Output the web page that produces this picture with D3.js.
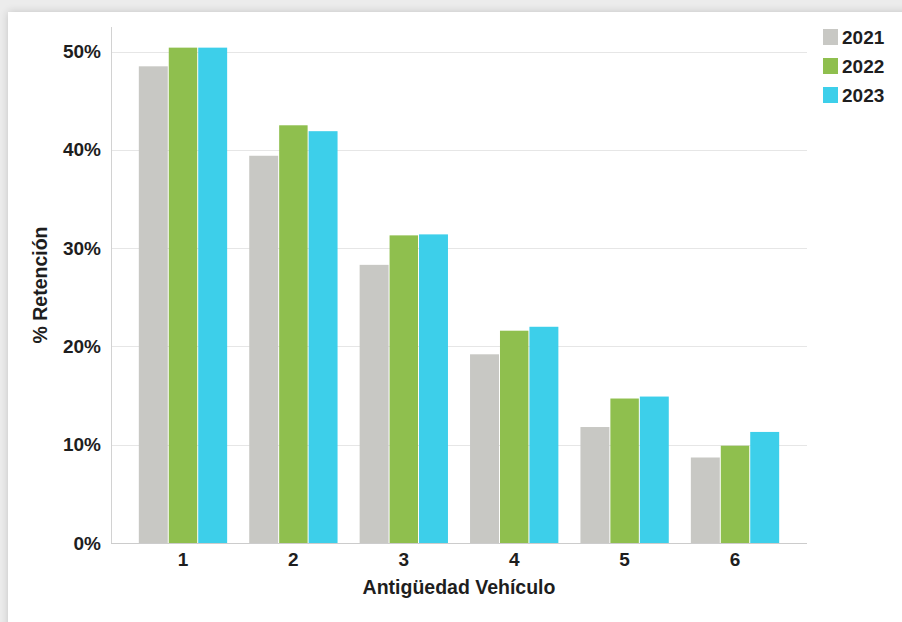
<!DOCTYPE html>
<html>
<head>
<meta charset="utf-8">
<script src="https://cdn.jsdelivr.net/npm/d3@7"></script>
<style>
  html, body { margin: 0; padding: 0; background: #ececec; }
  svg { display: block; }
  text { font-family: "Liberation Sans", Arial, sans-serif; font-weight: bold; fill: #1e1e1e; }
</style>
</head>
<body>
<svg id="chart" width="902" height="622"></svg>
<script>
// Vehicle age (years) and retention share per year, in percent
const categories = ["1", "2", "3", "4", "5", "6"];
const years = ["2021", "2022", "2023"];
const values2021 = [48.5, 39.4, 28.3, 19.2, 11.8, 8.7];
const values2022 = [50.4, 42.5, 31.3, 21.6, 14.7, 9.9];
const values2023 = [50.4, 41.9, 31.4, 22.0, 14.9, 11.3];
const yTicks = [0, 10, 20, 30, 40, 50];
const colors = ["#c8c8c4", "#8fbf4e", "#3dcfea"];

const series = [values2021, values2022, values2023];

const svg = d3.select("#chart");

// card with soft shadow
const defs = svg.append("defs");
const f = defs.append("filter").attr("id", "shadow").attr("x", "-10%").attr("y", "-10%").attr("width", "120%").attr("height", "120%");
f.append("feGaussianBlur").attr("in", "SourceAlpha").attr("stdDeviation", 4);
f.append("feComponentTransfer").append("feFuncA").attr("type", "linear").attr("slope", 0.18);
const m = f.append("feMerge");
m.append("feMergeNode");
m.append("feMergeNode").attr("in", "SourceGraphic");

svg.append("rect").attr("x", 8).attr("y", 12).attr("width", 920).attr("height", 640)
  .attr("fill", "#ffffff").attr("filter", "url(#shadow)");

const plotLeft = 111, plotRight = 807, plotTop = 27, plotBottom = 543;

const x = d3.scaleBand().domain(categories).range([plotLeft, plotRight])
  .paddingInner(0.2).paddingOuter(0.252);
const xs = d3.scaleBand().domain(years).range([0, x.bandwidth()]);
const y = d3.scaleLinear().domain([0, 52.5]).range([plotBottom, plotTop]);

// horizontal gridlines
svg.append("g").selectAll("line").data(yTicks.filter(d => d > 0)).join("line")
  .attr("x1", plotLeft).attr("x2", plotRight)
  .attr("y1", d => Math.round(y(d)) + 0.5).attr("y2", d => Math.round(y(d)) + 0.5)
  .attr("stroke", "#e6e6e6").attr("stroke-width", 1);

// y axis labels
const yAxis = d3.axisLeft(y).tickValues(yTicks).tickFormat(d => d + "%").tickSize(0).tickPadding(10);
const gy = svg.append("g").attr("transform", `translate(${plotLeft},0)`).call(yAxis);
gy.select(".domain").remove();
gy.selectAll("text").attr("font-size", 19).attr("fill", "#1e1e1e")
  .style("font-family", "'Liberation Sans', Arial, sans-serif").style("font-weight", "bold");

// axis lines
svg.append("line").attr("x1", plotLeft + 0.5).attr("x2", plotLeft + 0.5).attr("y1", plotTop).attr("y2", plotBottom)
  .attr("stroke", "#d2d2d2");
svg.append("line").attr("x1", plotLeft).attr("x2", plotRight).attr("y1", plotBottom + 0.5).attr("y2", plotBottom + 0.5)
  .attr("stroke", "#cccccc");

// bars
const groups = svg.append("g").selectAll("g").data(categories).join("g")
  .attr("transform", d => `translate(${x(d)},0)`);
groups.selectAll("rect")
  .data((c, i) => years.map((yr, k) => ({ yr, k, v: series[k][i] })))
  .join("rect")
  .attr("x", d => xs(d.yr) + (d.k > 0 ? 0.5 : 0))
  .attr("width", d => xs.bandwidth() - (d.k > 0 ? 0.5 : 0) - (d.k < 2 ? 0.5 : 0))
  .attr("y", d => y(d.v))
  .attr("height", d => y(0) - y(d.v))
  .attr("fill", d => colors[d.k]);

// x axis labels
const xAxis = d3.axisBottom(x).tickSize(0).tickPadding(10);
const gx = svg.append("g").attr("transform", `translate(0,${plotBottom})`).call(xAxis);
gx.select(".domain").remove();
gx.selectAll("text").attr("font-size", 19).attr("fill", "#1e1e1e")
  .style("font-family", "'Liberation Sans', Arial, sans-serif").style("font-weight", "bold");

// axis titles
svg.append("text").attr("x", (plotLeft + plotRight) / 2).attr("y", 594)
  .attr("text-anchor", "middle").attr("font-size", 19.5).text("Antigüedad Vehículo");
svg.append("text").attr("transform", `translate(47,${(plotTop + plotBottom) / 2}) rotate(-90)`)
  .attr("text-anchor", "middle").attr("font-size", 19.5).text("% Retención");

// legend
const lg = svg.append("g").selectAll("g").data(years).join("g")
  .attr("transform", (d, i) => `translate(823,${37 + i * 29})`);
lg.append("rect").attr("x", 0).attr("y", -8).attr("width", 15).attr("height", 16)
  .attr("fill", (d, i) => colors[i]);
lg.append("text").attr("x", 19).attr("y", 7).attr("font-size", 19).text(d => d);
</script>
</body>
</html>
